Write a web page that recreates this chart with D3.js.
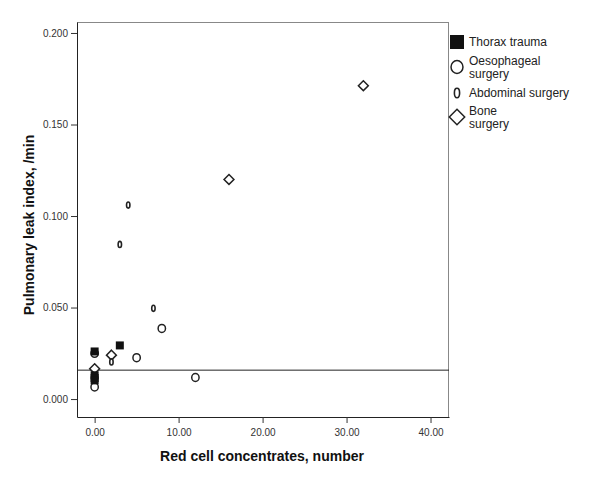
<!DOCTYPE html>
<html>
<head>
<meta charset="utf-8">
<script src="https://cdn.jsdelivr.net/npm/d3@7"></script>
<style>
body { margin: 0; background: #fff; }
svg { font-family: "Liberation Sans", Arial, sans-serif; }
.tick text { fill: #333; font-size: 10px; }
.tick line { stroke: #333; }
</style>
</head>
<body>
<div class="container"></div>
<script>
const WIDTH = 600;
const HEIGHT = 480;

// data: [red cell concentrates, pulmonary leak index]
const thorax = [[0, 0.026], [3, 0.0293], [0, 0.013], [0, 0.0115], [0, 0.0102]];
const oesophageal = [[0, 0.025], [0, 0.0066], [5, 0.0226], [8, 0.0386], [12, 0.0118]];
const abdominal = [[2, 0.0203], [3, 0.0845], [4, 0.106], [7, 0.0496]];
const bone = [[0, 0.0166], [2, 0.024], [16, 0.120], [32, 0.1712]];
const refLine = 0.0158;

const xTicks = [0, 10, 20, 30, 40];
const yTicks = [0, 0.05, 0.1, 0.15, 0.2];
const legendLabels = [["Thorax trauma"], ["Oesophageal", "surgery"], ["Abdominal surgery"], ["Bone", "surgery"]];

var translate = function (x, y) {
    return "translate(" + x + "," + y + ")";
};

var svg = d3.select('.container').append('svg')
    .attr('width', WIDTH)
    .attr('height', HEIGHT);

var xScale = d3.scaleLinear().domain([-2.1, 42.2]).range([77, 449]);
var yScale = d3.scaleLinear().domain([-0.0098, 0.206]).range([417, 22]);

// frame: top/right lighter
svg.append('line').attr('x1', 77).attr('x2', 449).attr('y1', 22.5).attr('y2', 22.5)
    .attr('stroke', '#888');
svg.append('line').attr('x1', 448.5).attr('x2', 448.5).attr('y1', 22).attr('y2', 417)
    .attr('stroke', '#888');

svg.append('g')
    .attr('transform', translate(0, 417))
    .call(d3.axisBottom(xScale).tickValues(xTicks).tickFormat(d3.format('.2f'))
        .tickSize(6).tickSizeOuter(0).tickPadding(6))
    .call(g => g.select('.domain').attr('stroke', '#222'));

svg.append('g')
    .attr('transform', translate(77, 0))
    .call(d3.axisLeft(yScale).tickValues(yTicks).tickFormat(d3.format('.3f'))
        .tickSize(6).tickSizeOuter(0).tickPadding(3))
    .call(g => g.select('.domain').attr('stroke', '#222'));

// reference line
svg.append('line')
    .attr('x1', 77).attr('x2', 449)
    .attr('y1', yScale(refLine)).attr('y2', yScale(refLine))
    .attr('stroke', '#222').attr('stroke-width', 1);

// axis titles
svg.append('text')
    .attr('x', 262).attr('y', 461)
    .attr('text-anchor', 'middle')
    .attr('font-size', 14).attr('font-weight', 'bold').attr('fill', '#111')
    .text('Red cell concentrates, number');

svg.append('text')
    .attr('transform', translate(34, 225) + ' rotate(-90)')
    .attr('text-anchor', 'middle')
    .attr('font-size', 14).attr('font-weight', 'bold').attr('fill', '#111')
    .text('Pulmonary leak index, /min');

var symbols = [
    function (g, s) {
        g.append('rect').attr('x', -s / 2).attr('y', -s / 2).attr('width', s).attr('height', s)
            .attr('fill', '#111');
    },
    function (g, s) {
        g.append('ellipse').attr('rx', s * 0.46).attr('ry', s * 0.5)
            .attr('fill', '#fff').attr('stroke', '#222').attr('stroke-width', 1.5);
    },
    function (g, s) {
        g.append('ellipse').attr('rx', s * 0.2).attr('ry', s * 0.36)
            .attr('fill', '#fff').attr('stroke', '#222').attr('stroke-width', 1.6);
    },
    function (g, s) {
        var h = s * 0.55;
        g.append('path').attr('d', 'M0,' + (-h) + 'L' + h + ',0L0,' + h + 'L' + (-h) + ',0Z')
            .attr('fill', '#fff').attr('stroke', '#222').attr('stroke-width', 1.5);
    }
];

var groups = [[bone, 3, 9], [oesophageal, 1, 8], [abdominal, 2, 8.5], [thorax, 0, 8]];
groups.forEach(function (grp) {
    svg.append('g').selectAll('g')
        .data(grp[0])
        .join('g')
        .attr('transform', d => translate(xScale(d[0]), yScale(d[1])))
        .each(function () { symbols[grp[1]](d3.select(this), grp[2]); });
});

// legend
var legendY = [42, 67, 93, 117];
var legendSize = [14, 13, 13, 14];
legendLabels.forEach(function (lines, i) {
    var g = svg.append('g').attr('transform', translate(457, legendY[i]));
    symbols[i](g, legendSize[i]);
    var t = svg.append('text')
        .attr('x', 469)
        .attr('y', legendY[i] + 4 - (lines.length - 1) * 6.5)
        .attr('font-size', 12).attr('fill', '#222');
    lines.forEach(function (l, j) {
        t.append('tspan').attr('x', 469).attr('dy', j ? 13 : 0).text(l);
    });
});
</script>
</body>
</html>
